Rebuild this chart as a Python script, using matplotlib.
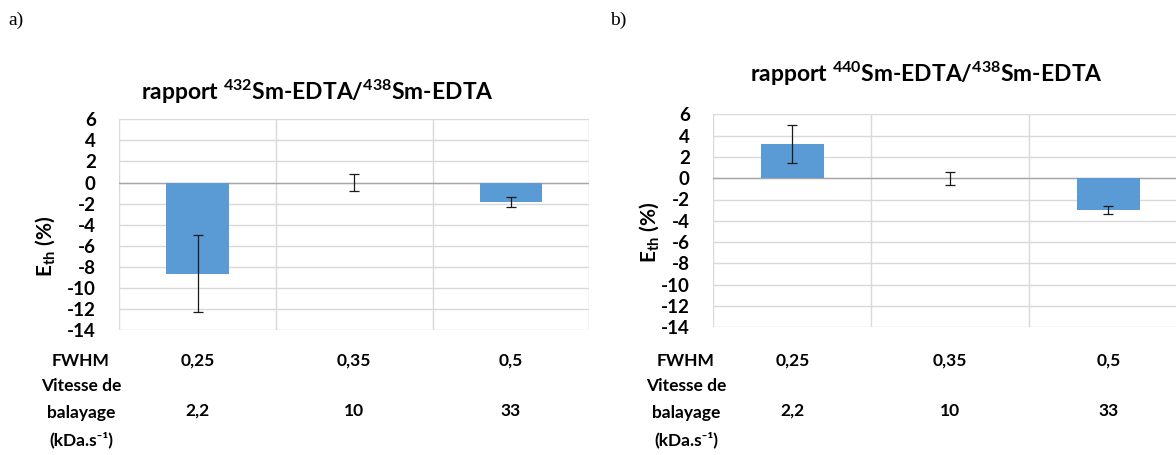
import matplotlib
matplotlib.use("Agg")
import matplotlib.pyplot as plt
from matplotlib.transforms import blended_transform_factory

plt.rcParams['font.family'] = ['Lato', 'DejaVu Sans']
plt.rcParams['font.weight'] = 'bold'
plt.rcParams['mathtext.fontset'] = 'custom'
plt.rcParams['mathtext.rm'] = 'Lato:bold'
plt.rcParams['mathtext.it'] = 'Lato:bold'
plt.rcParams['mathtext.bf'] = 'Lato:bold'

# ---- data ----
fwhm_labels = ['0,25', '0,35', '0,5']
vitesse_labels = ['2,2', '10', '33']
ratio_432 = [-8.65, 0.0, -1.83]
err_432 = [3.63, 0.83, 0.45]
ratio_440 = [3.2, 0.0, -2.99]
err_440 = [1.8, 0.61, 0.38]
titles = [r'rapport $^{\mathrm{432}}$Sm-EDTA/$^{\mathrm{438}}$Sm-EDTA',
          r'rapport $^{\mathrm{440}}$Sm-EDTA/$^{\mathrm{438}}$Sm-EDTA']
panel_tags = ['a)', 'b)']
yticks = list(range(-14, 7, 2))

W, H = 1176, 455
fig = plt.figure(figsize=(W / 100, H / 100), dpi=100)
fig.patch.set_facecolor('white')

def fx(px):
    return px / W

def fy(py):
    return 1 - py / H

panels = [
    dict(rect=[fx(119.3), fy(330.0), fx(470), 210.7 / H], vals=ratio_432, errs=err_432,
         title_xy=(317, 92), tag_xy=(8, 20), ylab_xy=(45, 246), row_lab_x=81),
    dict(rect=[fx(713.3), fy(327.3), fx(474), 213.0 / H], vals=ratio_440, errs=err_440,
         title_xy=(926, 74), tag_xy=(610, 20), ylab_xy=(649, 232), row_lab_x=686),
]

grid_col = '#d9d9d9'
for i, p in enumerate(panels):
    ax = fig.add_axes(p['rect'])
    ax.set_xlim(-0.5, 2.5)
    ax.set_ylim(-14, 6)
    for s in ax.spines.values():
        s.set_visible(False)
    ax.set_yticks(yticks)
    ax.set_yticklabels([str(t) for t in yticks], fontsize=13.5, fontweight='bold')
    ax.tick_params(axis='y', length=0, pad=17)
    ax.set_xticks([])
    ax.set_xticks([-0.5, 0.5, 1.5, 2.5], minor=True)
    ax.tick_params(axis='x', which='minor', length=0)
    ax.grid(True, axis='y', which='major', color=grid_col, linewidth=1.0)
    ax.grid(True, axis='x', which='minor', color=grid_col, linewidth=1.0)
    ax.set_axisbelow(True)
    ax.axhline(0, color='#a6a6a6', linewidth=1.0, zorder=1)
    x = range(len(p['vals']))
    ax.bar(x, p['vals'], width=0.4, color='#5b9bd5', linewidth=0, zorder=2)
    ax.errorbar(x, p['vals'], yerr=p['errs'], fmt='none', ecolor='#1a1a1a',
                elinewidth=0.9, capsize=3.5, capthick=0.9, zorder=3)

    # table below
    trans = blended_transform_factory(ax.transData, fig.transFigure)
    for j in range(len(fwhm_labels)):
        ax.text(j, fy(361), fwhm_labels[j], transform=trans, ha='center', va='center',
                fontsize=12.5, fontweight='bold', clip_on=False)
        ax.text(j, fy(411), vitesse_labels[j], transform=trans, ha='center', va='center',
                fontsize=12.5, fontweight='bold', clip_on=False)
    lx = fx(p['row_lab_x'])
    fig.text(lx, fy(361), 'FWHM', ha='center', va='center', fontsize=12.5, fontweight='bold')
    fig.text(lx, fy(386), 'Vitesse de', ha='center', va='center', fontsize=12.5, fontweight='bold')
    fig.text(lx, fy(413), 'balayage', ha='center', va='center', fontsize=12.5, fontweight='bold')
    fig.text(lx, fy(440), '(kDa.s\u207b\u00b9)', ha='center', va='center',
             fontsize=12.5, fontweight='bold')

    # y label
    fig.text(fx(p['ylab_xy'][0]), fy(p['ylab_xy'][1]), r'E$_{\mathrm{th}}$ (%)',
             rotation=90, ha='center', va='center', fontsize=15, fontweight='bold')
    # title
    fig.text(fx(p['title_xy'][0]), fy(p['title_xy'][1]), titles[i], ha='center', va='center',
             fontsize=16.5, fontweight='bold')
    # panel tag
    fig.text(fx(p['tag_xy'][0]), fy(p['tag_xy'][1]), panel_tags[i], ha='left', va='center',
             fontsize=14, fontweight='normal', family='Liberation Serif')

fig.savefig('out.png', dpi=100, facecolor='white')
